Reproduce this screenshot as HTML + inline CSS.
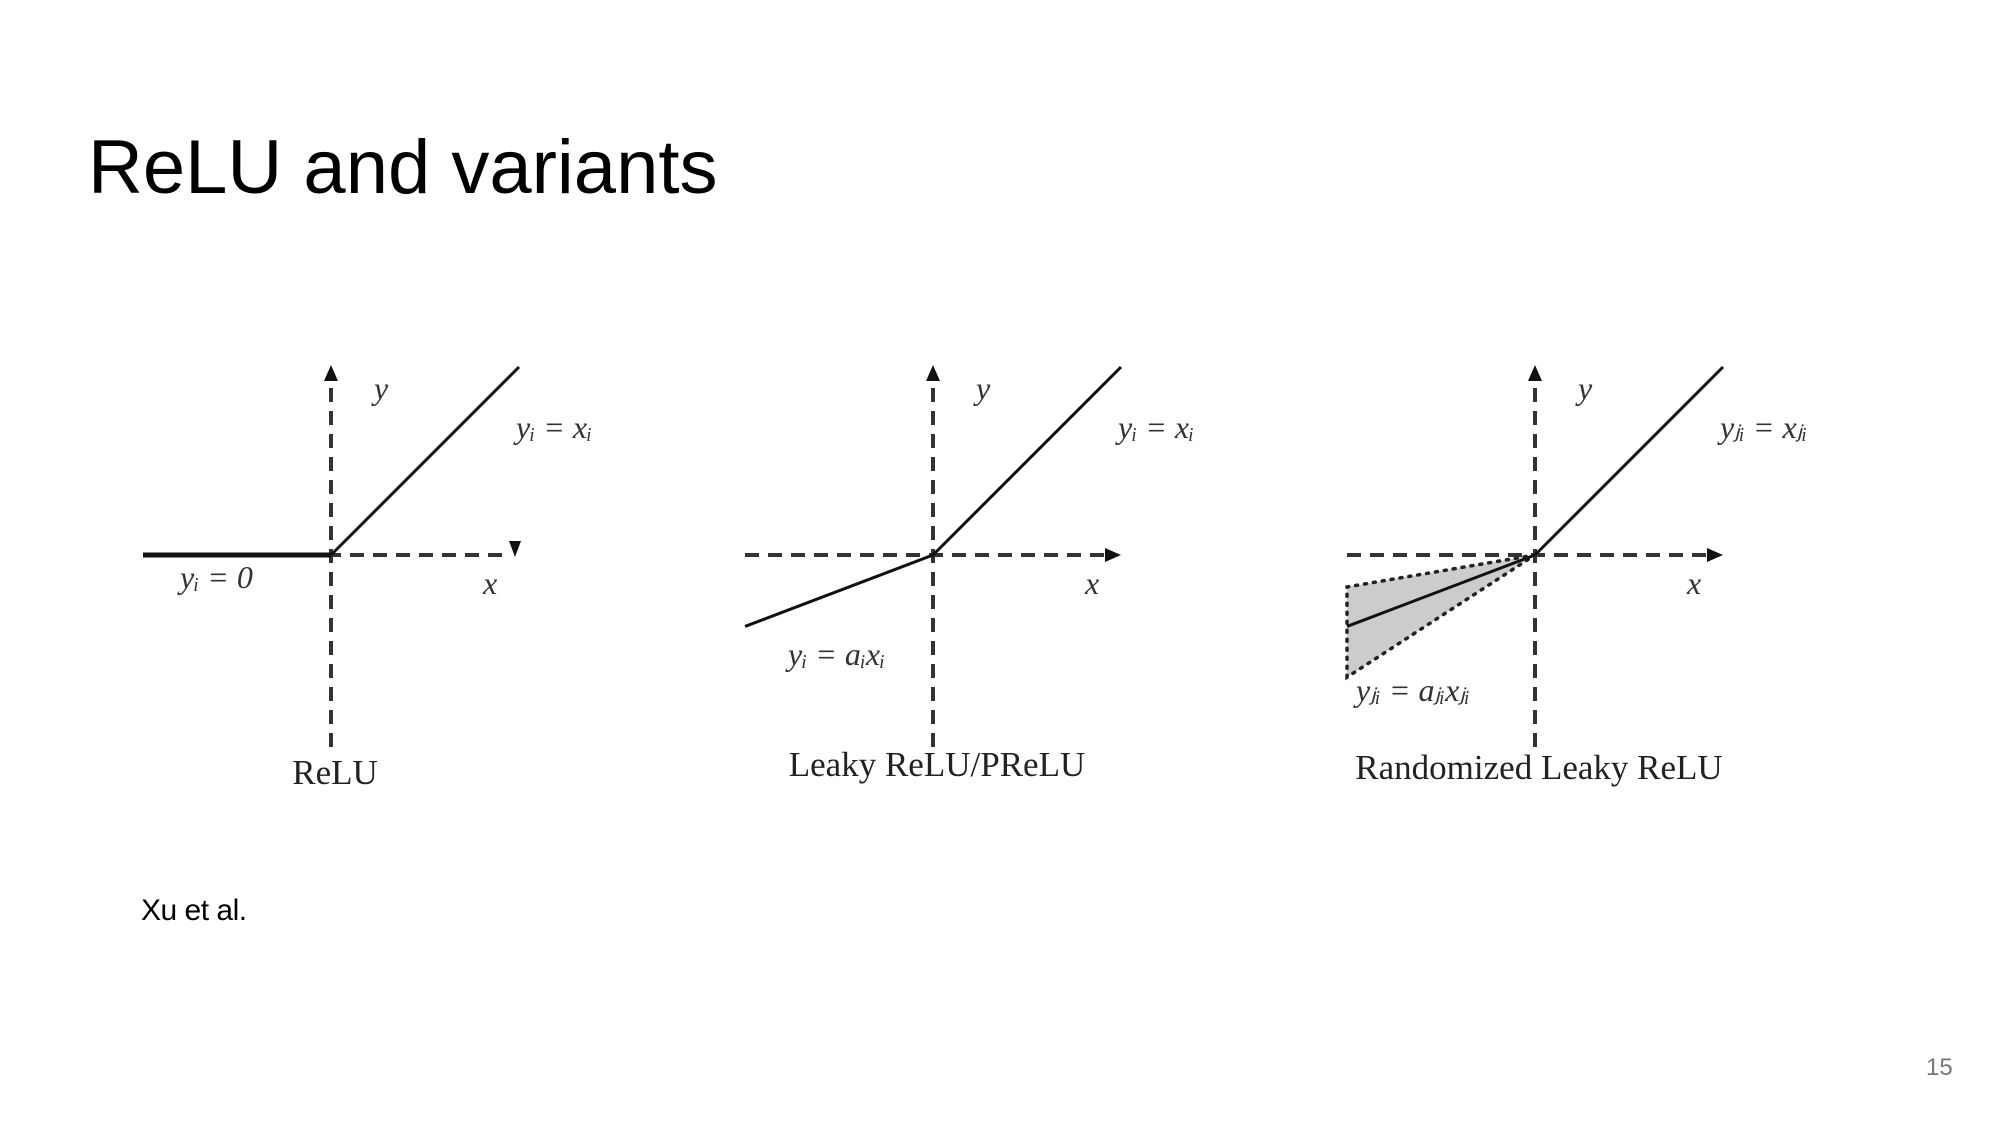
<!DOCTYPE html>
<html><head><meta charset="utf-8"><style>
html,body{margin:0;padding:0;background:#fff;}
body{width:2000px;height:1125px;overflow:hidden;position:relative;font-family:"Liberation Sans",sans-serif;}
#title{position:absolute;left:88px;top:130px;font-size:76px;color:#000;line-height:1;margin:0;font-weight:normal;}
#cite{position:absolute;left:141px;top:894px;font-size:30px;color:#000;letter-spacing:-0.5px;}
#pnum{position:absolute;left:1926px;top:1054px;font-size:24px;color:#777;}
svg{position:absolute;left:0;top:0;}
.lbl{font-family:"Liberation Serif",serif;font-style:italic;font-size:32px;fill:#333;}
.cap{font-family:"Liberation Serif",serif;font-size:35px;fill:#222;}
</style></head><body>
<h1 id="title">ReLU and variants</h1>
<div id="cite">Xu et al.</div>
<div id="pnum">15</div>
<svg id="chart" width="2000" height="1125"></svg>
<script>
const panelNames=["ReLU","Leaky ReLU/PReLU","Randomized Leaky ReLU"];
const originX=[331,933,1535];
const negSlope=[0,0.38,0.38];
const negSlopeMin=[0,0,0.17];
const negSlopeMax=[0,0,0.65];
const posSlope=[1,1,1];
const posLabels=["y\u1d62 = x\u1d62","y\u1d62 = x\u1d62","y\u2c7c\u1d62 = x\u2c7c\u1d62"];
const negLabels=["y\u1d62 = 0","y\u1d62 = a\u1d62x\u1d62","y\u2c7c\u1d62 = a\u2c7c\u1d62x\u2c7c\u1d62"];
const xMin=-1, xMax=1;

const NS="http://www.w3.org/2000/svg";
const svg=document.getElementById('chart');
const oy=555, half=188;
function el(t,a,p){const e=document.createElementNS(NS,t);for(const k in a)e.setAttribute(k,a[k]);(p||svg).appendChild(e);return e;}
panelNames.forEach((name,i)=>{
  const ox=originX[i];
  const sx=v=>ox+v*half, sy=v=>oy-v*half;
  const g=el('g',{});
  
  
  if(negSlopeMax[i]>negSlopeMin[i]){
    const p=el('polygon',{points:`${sx(0)},${sy(0)} ${sx(xMin)},${sy(xMin*negSlopeMin[i])} ${sx(xMin)},${sy(xMin*negSlopeMax[i])}`,fill:'#ccc',stroke:'#222','stroke-width':3.5,'stroke-dasharray':'2 7','stroke-linecap':'round'},g);
    
    
  }
  const xa=el('line',{x1:sx(xMin),y1:oy,x2:sx(xMax)-12,y2:oy,stroke:'#333','stroke-width':4,'stroke-dasharray':'14 9'},g);
  
  
  const ya=el('line',{x1:ox,y1:oy+192,x2:ox,y2:oy-half+12,stroke:'#333','stroke-width':4,'stroke-dasharray':'14 9'},g);
  
  
  const ah=el('polygon',{points:i==0?`${sx(xMax)-10},${oy-14} ${sx(xMax)+2},${oy-14} ${sx(xMax)-4},${oy+2}`:`${sx(xMax)},${oy} ${sx(xMax)-16},${oy-7} ${sx(xMax)-16},${oy+7}`,fill:'#111'},g);
  
  
  const ay=el('polygon',{points:`${ox},${oy-half-2} ${ox-7},${oy-half+14} ${ox+7},${oy-half+14}`,fill:'#111'},g);
  
  
  const pl=el('line',{x1:ox,y1:oy,x2:sx(xMax),y2:sy(xMax*posSlope[i]),stroke:'#111','stroke-width':3},g);
  
  
  const nl=el('line',{x1:ox,y1:oy,x2:sx(xMin),y2:sy(xMin*negSlope[i]),stroke:'#111','stroke-width':i==0?5:3},g);
  
  
  const t1=el('text',{x:ox+43,y:399,class:'lbl'},g);t1.textContent='y';
  
  
  const t2=el('text',{x:ox+152,y:594,class:'lbl'},g);t2.textContent='x';
  
  
  const t3=el('text',{x:sx(xMax)-3,y:438,class:'lbl'},g);t3.textContent=posLabels[i];
  
  
  const nx=[180,788,1356][i], ny=[588,665,701][i];
  const t4=el('text',{x:nx,y:ny,class:'lbl'},g);t4.textContent=negLabels[i];
  
  
  const cy=[784,776,779][i];
  const t5=el('text',{x:ox+4,y:cy,class:'cap','text-anchor':'middle'},g);t5.textContent=name;
  
  
});
</script>
</body></html>
